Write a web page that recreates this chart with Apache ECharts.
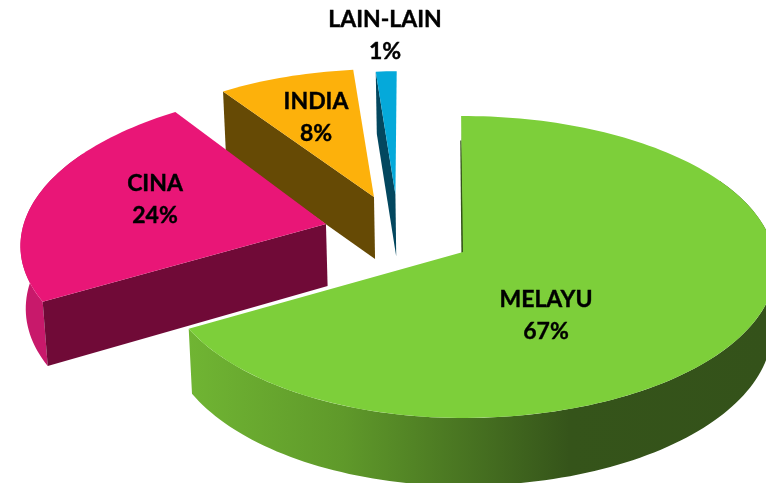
<!DOCTYPE html>
<html><head><meta charset="utf-8">
<style>html,body{margin:0;padding:0;background:#fff}#c{width:766px;height:483px}</style>
<script src="https://cdn.jsdelivr.net/npm/echarts@6/dist/echarts.min.js"></script>
</head><body><div id="c"></div>
<script>
const categories = ['MELAYU', 'CINA', 'INDIA', 'LAIN-LAIN'];
const shares = [67, 23.5, 8.2, 1.3];

const TOP = ['#7dcf3a', '#e91677', '#fdb10b', '#05a9da'];
const EDGE = ['#34521a', '#700a37', '#664a05', '#03475f'];
const RIM = [
  {type:'linear',x:188,y:0,x2:766,y2:0,global:true,colorStops:[
    {offset:0,color:'#70b533'},{offset:.27,color:'#5f992a'},{offset:.66,color:'#35541a'},{offset:1,color:'#34521a'}]},
  '#c8196b', '#664a05', '#03475f'];
const EXPLODE = [[0,0],[-.467,.19],[-.309,.382],[-.235,.40]];
const RADIUS = [1,1.03,1.01,.975];
const ROTATE = [-.4,-1,-1.5,-1];
const LABEL_AT = [[546,316],[155,200],[316,118],[385,36]];
const ORDER = [4,3,2,1];

const P = {x:463,y:252,rl:299,rr:311,s:149.5,k:.0993};
function project(u,v){
  const w = 1+P.k*v;
  return [P.x+(u>0?P.rr:P.rl)*u/w, P.y-P.s*v/w];
}
function lower(p){
  const d = 62+Math.max(0,p[1]-225)*.03;
  return [p[0]+(P.x-p[0])*.012, p[1]+d];
}
function arc(i,a0,a1){
  const pts=[], n=Math.max(2,Math.ceil(Math.abs(a1-a0)/1.5));
  const e=EXPLODE[i], r=RADIUS[i];
  for(let j=0;j<=n;j++){
    const t=(a0+(a1-a0)*j/n)*Math.PI/180;
    pts.push(project(e[0]+r*Math.sin(t),e[1]+r*Math.cos(t)));
  }
  return pts;
}
const total = shares.reduce((a,b)=>a+b,0);
let acc = 0;
const starts = shares.map((v,i)=>{const s=acc/total*360+ROTATE[i];acc+=v;return s;});

function renderItem(params,api){
  const i=params.dataIndex, a0=starts[i], a1=a0+api.value(0)/total*360;
  const rim=arc(i,a0,a1), ap=project(EXPLODE[i][0],EXPLODE[i][1]);
  const z=ORDER[i]*10, kids=[];
  const poly=(pts,fill,dz)=>({type:'polygon',shape:{points:pts},style:{fill:fill},z2:z+dz});
  const w0=Math.max(a0,60), w1=Math.min(a1,300);
  if(w1>w0){
    const seen=arc(i,w0,w1);
    kids.push(poly(seen.concat(seen.map(lower).reverse()),RIM[i],0));
  }
  const first=rim[0];
  kids.push(poly([ap,first,lower(first),lower(ap)],EDGE[i],1));
  if(i===0){
    const p0=[first[0]+(ap[0]-first[0])*.18,first[1]+(ap[1]-first[1])*.18];
    kids.push(poly([p0,[ap[0]+1,ap[1]],[ap[0]-1.6,ap[1]+1],[p0[0]-1.2,p0[1]]],EDGE[i],2));
  }
  kids.push(poly([ap].concat(rim),TOP[i],3));
  kids.push({type:'text',z2:100,style:{
    x:LABEL_AT[i][0],y:LABEL_AT[i][1],
    text:categories[i]+'\n'+Math.round(api.value(0))+'%',
    align:'center',verticalAlign:'middle',
    font:'bold 23px Lato',lineHeight:32,fill:'#000',stroke:'#000',lineWidth:.4}});
  return {type:'group',children:kids};
}
const chart=echarts.init(document.getElementById('c'),null,{renderer:'canvas'});
chart.setOption({
  animation:false,
  backgroundColor:'#fff',
  series:[{type:'custom',coordinateSystem:'none',clip:false,renderItem,
    data:categories.map((n,i)=>({name:n,value:[shares[i]]}))}]
});
</script></body></html>
